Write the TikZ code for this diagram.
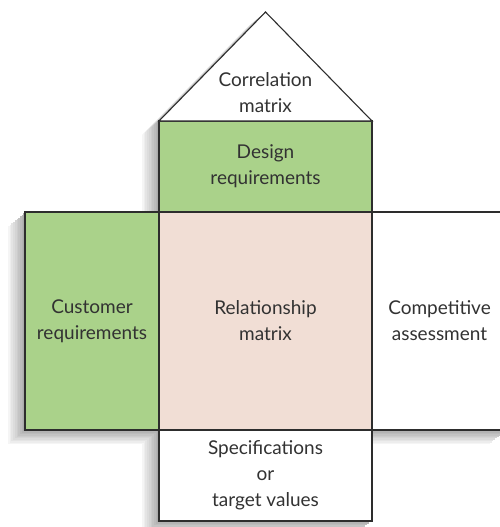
\documentclass[tikz,border=0pt]{standalone}
\usepackage{fontspec}
\setmainfont{Lato}
\usepackage{xcolor}
\usetikzlibrary{positioning,calc,backgrounds}

\definecolor{reqgreen}{RGB}{170,210,138}
\definecolor{relpink}{RGB}{241,222,213}
\definecolor{edgegray}{RGB}{45,45,45}
\definecolor{textgray}{RGB}{50,50,50}

\begin{document}
\begin{tikzpicture}[x=1pt, y=-1pt, node distance=0pt]
        \tikzstyle{room} = [rectangle, draw=edgegray, line width=1.1pt, text=textgray, align=center, font=\fontsize{19}{26}\selectfont, inner sep=0pt, outer sep=0pt]
        \tikzstyle{roof} = [draw=edgegray, line width=1.1pt, fill=white, line join=miter]

        \useasboundingbox (0,0) rectangle (499,527);

        % Middle of the house
        \node [room, fill=relpink, minimum width=213pt, minimum height=218pt] (rel) at (265.5,321) {Relationship\\matrix};
        \node [room, fill=reqgreen, minimum width=213pt, minimum height=91pt, above=of rel] (design) {Design\\requirements};
        \node [room, fill=reqgreen, minimum width=134pt, minimum height=218pt, left=of rel] (cust) {Customer\\requirements};
        \node [room, fill=white, minimum width=135pt, minimum height=218pt, right=of rel] (comp) {Competitive\\assessment};
        \node [room, fill=white, minimum width=213pt, minimum height=91pt, below=of rel] (spec) {Specifications\\or\\target values};

        % Roof
        \coordinate [above=109pt of design.north] (apex);
        \path [roof] (design.north west) -- (apex) -- (design.north east) -- cycle;
        \node [text=textgray, align=center, font=\fontsize{19}{26}\selectfont] (corr) at ($(design.north)!0.26!(apex)$) {Correlation\\matrix};

        % Shadow
        \begin{scope}[on background layer]
        \foreach \k in {10,...,1} {
            \pgfmathsetmacro\shade{72-6.4*\k}
            \foreach \b in {design,cust,rel,comp,spec}
                \fill [gray!\shade] ([shift={(-1.7*\k,1.4*\k)}]\b.north west) rectangle ([shift={(-1.7*\k,1.4*\k)}]\b.south east);
            \fill [gray!\shade] ([shift={(-1.7*\k,1.4*\k)}]design.north west) -- ([shift={(-1.7*\k,1.4*\k)}]apex) -- ([shift={(-1.7*\k,1.4*\k)}]design.north east) -- cycle;
        }
        \end{scope}
    \end{tikzpicture}
\end{document}
